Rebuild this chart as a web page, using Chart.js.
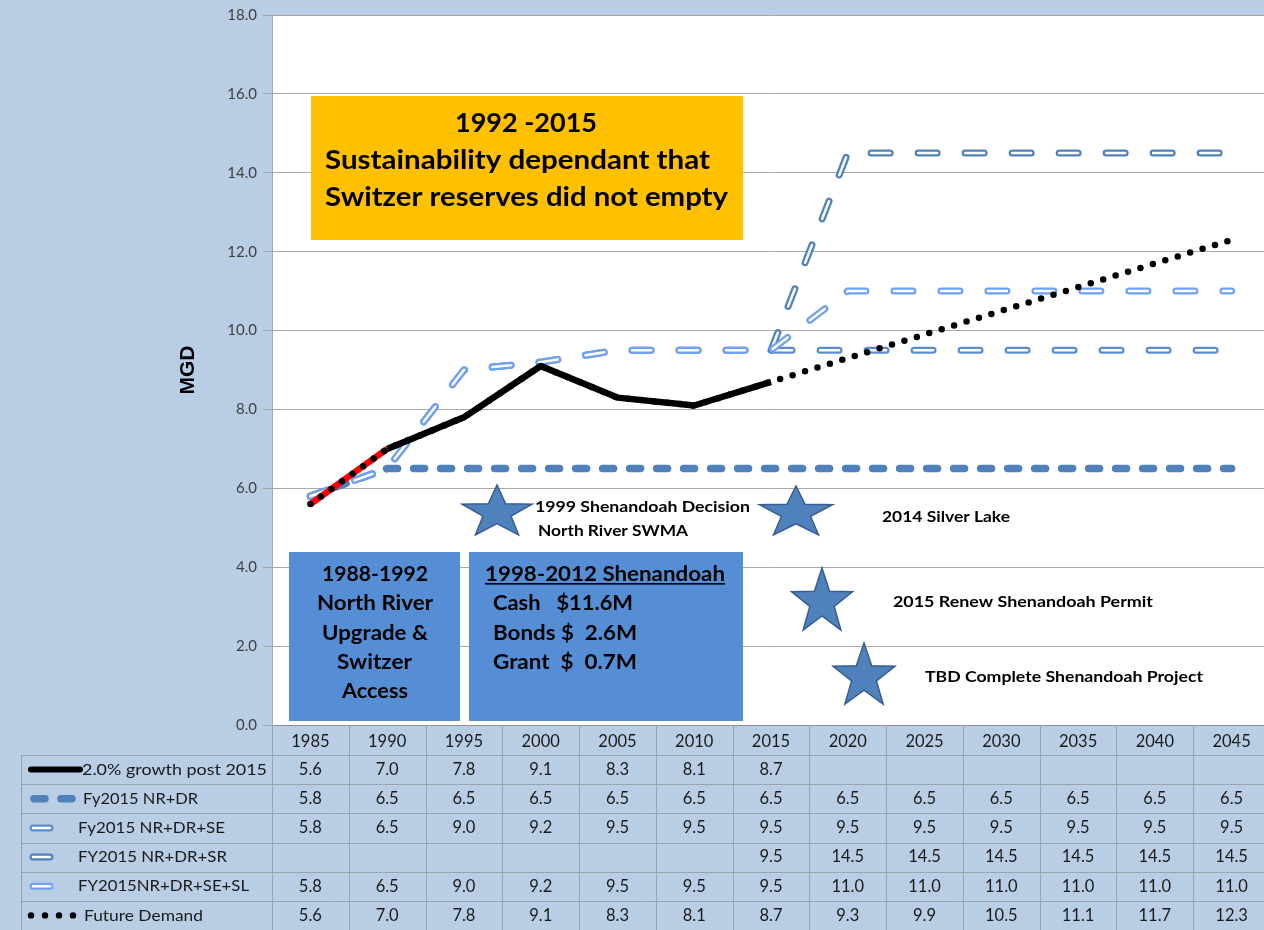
<!DOCTYPE html>
<html>
<head>
<meta charset="utf-8">
<script src="https://cdn.jsdelivr.net/npm/chart.js@4.4.0/dist/chart.umd.min.js"></script>
<style>
html, body { margin: 0; padding: 0; background: #b9cde5; overflow: hidden; }
canvas { display: block; }
</style>
</head>
<body>
<canvas id="myChart" width="1270" height="930"></canvas>
<script>
const years = ['1985', '1990', '1995', '2000', '2005', '2010', '2015', '2020', '2025', '2030', '2035', '2040', '2045'];

const growth   = [5.6, 7.0, 7.8, 9.1, 8.3, 8.1, 8.7, null, null, null, null, null, null];
const nrDr     = [5.8, 6.5, 6.5, 6.5, 6.5, 6.5, 6.5, 6.5, 6.5, 6.5, 6.5, 6.5, 6.5];
const nrDrSe   = [5.8, 6.5, 9.0, 9.2, 9.5, 9.5, 9.5, 9.5, 9.5, 9.5, 9.5, 9.5, 9.5];
const nrDrSr   = [null, null, null, null, null, null, 9.5, 14.5, 14.5, 14.5, 14.5, 14.5, 14.5];
const nrDrSeSl = [5.8, 6.5, 9.0, 9.2, 9.5, 9.5, 9.5, 11.0, 11.0, 11.0, 11.0, 11.0, 11.0];
const demand   = [5.6, 7.0, 7.8, 9.1, 8.3, 8.1, 8.7, 9.3, 9.9, 10.5, 11.1, 11.7, 12.3];

const seriesNames = ['2.0% growth post 2015', 'Fy2015 NR+DR', 'Fy2015 NR+DR+SE', 'FY2015 NR+DR+SR', 'FY2015NR+DR+SE+SL', 'Future Demand'];
const tableRows = [growth, nrDr, nrDrSe, nrDrSr, nrDrSeSl, demand];

const yMin = 0, yMax = 18, yStep = 2;

const BG = '#b9cde5';
const DARK_BLUE = '#4f81bd';
const SE_BLUE = '#5a8dcf';
const LIGHT_BLUE = '#6fa1f0';
const DASH_OUT = [19, 28];
const FONT = 'Lato, "Open Sans", sans-serif';

// label placement in the table's first column: [left, width]
const nameSpots = [[82, 185], [83, 115], [78, 147], [78, 149], [78, 171], [84, 119]];

function outlined(data, color, order) {
    return [{
        data: data, borderColor: '#ffffff', borderWidth: 2.5, borderDash: DASH_OUT,
        borderCapStyle: 'round', pointRadius: 0, order: order
    }, {
        data: data, borderColor: color, borderWidth: 7, borderDash: DASH_OUT,
        borderCapStyle: 'round', pointRadius: 0, order: order + 1
    }];
}

let data = {
    labels: years,
    datasets: [
        { data: demand, borderColor: '#000', borderWidth: 6.5, borderDash: [0, 13], borderCapStyle: 'round', pointRadius: 0, order: 0 },
        { data: growth, borderColor: '#000', borderWidth: 6.5, borderJoinStyle: 'round', pointRadius: 0, order: 1,
          segment: { borderColor: c => c.p0DataIndex === 0 ? '#ff0000' : '#000' } },
        ...outlined(nrDrSeSl, LIGHT_BLUE, 2),
        ...outlined(nrDrSe, SE_BLUE, 4),
        ...outlined(nrDrSr, DARK_BLUE, 6),
        { data: nrDr, borderColor: DARK_BLUE, borderWidth: 7.5, borderDash: [11, 16], borderCapStyle: 'round', pointRadius: 0, order: 8 }
    ]
};

function fitText(ctx, str, x, y, w, font) {
    ctx.font = font;
    const m = ctx.measureText(str).width;
    ctx.save();
    ctx.translate(x, y);
    ctx.scale(w / m, 1);
    ctx.textAlign = 'left';
    ctx.textBaseline = 'middle';
    ctx.fillText(str, 0, 0);
    ctx.restore();
}

function star(ctx, cx, top, w, h) {
    const rx = w / 1.902, ry = h / 1.809;
    const cy = top + ry;
    ctx.beginPath();
    for (let i = 0; i < 10; i++) {
        const a = -Math.PI / 2 + i * Math.PI / 5;
        const k = i % 2 === 0 ? 1 : 0.4;
        ctx.lineTo(cx + Math.cos(a) * rx * k, cy + Math.sin(a) * ry * k);
    }
    ctx.closePath();
    ctx.fillStyle = DARK_BLUE;
    ctx.fill();
    ctx.strokeStyle = '#385d8a';
    ctx.lineWidth = 1.5;
    ctx.stroke();
}

const background = {
    id: 'background',
    beforeDraw(chart) {
        const { ctx, chartArea: a } = chart;
        ctx.save();
        ctx.fillStyle = BG;
        ctx.fillRect(0, 0, chart.width, chart.height);
        ctx.fillStyle = '#ffffff';
        ctx.fillRect(a.left, a.top, a.right - a.left, a.bottom - a.top);
        ctx.restore();
    }
};

const notes = {
    id: 'notes',
    beforeDatasetsDraw(chart) {
        const ctx = chart.ctx;
        ctx.save();
        // orange box
        ctx.fillStyle = '#ffc000';
        ctx.fillRect(311, 96, 432, 144);
        ctx.fillStyle = '#000';
        const big = 'bold 27px ' + FONT;
        fitText(ctx, '1992 -2015', 455, 123, 142, big);
        fitText(ctx, 'Sustainability dependant that', 325, 160, 385, big);
        fitText(ctx, 'Switzer reserves did not empty', 325, 197, 403, big);

        // blue boxes
        ctx.fillStyle = '#558ed5';
        ctx.fillRect(289, 552, 171, 169);
        ctx.fillRect(469, 552, 274, 169);
        ctx.fillStyle = '#000';
        const mid = 'bold 20px ' + FONT;
        fitText(ctx, '1988-1992', 322, 575, 106, mid);
        fitText(ctx, 'North River', 317, 604, 116, mid);
        fitText(ctx, 'Upgrade &', 322, 634, 106, mid);
        fitText(ctx, 'Switzer', 337, 663, 75, mid);
        fitText(ctx, 'Access', 342, 692, 66, mid);

        fitText(ctx, '1998-2012 Shenandoah', 485, 575, 240, mid);
        ctx.fillRect(485, 583, 240, 1.6);
        fitText(ctx, 'Cash   $11.6M', 493, 604, 140, mid);
        fitText(ctx, 'Bonds $  2.6M', 493, 634, 144, mid);
        fitText(ctx, 'Grant  $  0.7M', 493, 663, 144, mid);

        // stars and milestone labels
        star(ctx, 497, 485, 70, 50);
        star(ctx, 796, 486, 73, 49);
        star(ctx, 822, 568, 61, 62);
        star(ctx, 864, 643, 62, 61);
        ctx.fillStyle = '#000';
        const sm = 'bold 16px ' + FONT;
        fitText(ctx, '1999 Shenandoah Decision', 535, 507, 215, sm);
        fitText(ctx, 'North River SWMA', 538, 531, 150, sm);
        fitText(ctx, '2014 Silver Lake', 882, 517, 128, sm);
        fitText(ctx, '2015 Renew Shenandoah Permit', 893, 602, 260, sm);
        fitText(ctx, 'TBD Complete Shenandoah Project', 925, 677, 278, sm);
        ctx.restore();
    }
};

const dataTable = {
    id: 'dataTable',
    afterDraw(chart) {
        const { ctx, chartArea: a } = chart;
        const x = chart.scales.x;
        const colW = (a.right - a.left) / years.length;
        const top = a.bottom, head = a.bottom + 30, bottom = chart.height;
        const rowH = (bottom - head) / tableRows.length;
        const left = 21;
        ctx.save();
        ctx.strokeStyle = '#9aa3ad';
        ctx.lineWidth = 1;
        ctx.beginPath();
        for (let k = 0; k <= years.length; k++) {
            const px = Math.round(a.left + k * colW) + 0.5;
            ctx.moveTo(px, top);
            ctx.lineTo(px, bottom);
        }
        ctx.moveTo(left + 0.5, head);
        ctx.lineTo(left + 0.5, bottom);
        for (let r = 0; r < tableRows.length; r++) {
            const py = Math.round(head + r * rowH) + 0.5;
            ctx.moveTo(left, py);
            ctx.lineTo(a.right, py);
        }
        ctx.stroke();

        ctx.fillStyle = '#1a1a1a';
        ctx.textBaseline = 'middle';
        tableRows.forEach((row, r) => {
            const cy = head + r * rowH + rowH / 2;
            ctx.font = '16.5px ' + FONT;
            ctx.textAlign = 'center';
            row.forEach((v, i) => {
                if (v === null) return;
                ctx.fillText(v.toFixed(1), x.getPixelForValue(i), cy);
            });
            fitText(ctx, seriesNames[r], nameSpots[r][0], cy, nameSpots[r][1], '16px ' + FONT);
        });

        // legend keys
        const cy = r => head + r * rowH + rowH / 2;
        ctx.lineCap = 'round';
        ctx.strokeStyle = '#000';
        ctx.lineWidth = 6;
        ctx.beginPath(); ctx.moveTo(31, cy(0)); ctx.lineTo(80, cy(0)); ctx.stroke();

        ctx.strokeStyle = DARK_BLUE;
        ctx.lineWidth = 7.5;
        ctx.setLineDash([11, 16]);
        ctx.beginPath(); ctx.moveTo(34, cy(1)); ctx.lineTo(80, cy(1)); ctx.stroke();
        ctx.setLineDash([]);

        [SE_BLUE, DARK_BLUE, LIGHT_BLUE].forEach((c, j) => {
            const yy = cy(2 + j);
            ctx.strokeStyle = c; ctx.lineWidth = 7;
            ctx.beginPath(); ctx.moveTo(33, yy); ctx.lineTo(50, yy); ctx.stroke();
            ctx.strokeStyle = '#fff'; ctx.lineWidth = 2.5;
            ctx.beginPath(); ctx.moveTo(33, yy); ctx.lineTo(50, yy); ctx.stroke();
        });

        ctx.fillStyle = '#000';
        [31, 45, 59, 73].forEach(dx => {
            ctx.beginPath(); ctx.arc(dx, cy(5), 3.2, 0, Math.PI * 2); ctx.fill();
        });
        ctx.restore();
    }
};

let config = {
    type: 'line',
    data: data,
    options: {
        responsive: false,
        devicePixelRatio: 1,
        animation: false,
        layout: { padding: { top: 14, right: 0, bottom: 0, left: 0 } },
        plugins: { legend: { display: false }, tooltip: { enabled: false } },
        scales: {
            x: {
                offset: true,
                grid: { display: false, drawTicks: false },
                border: { color: '#8f8f8f' },
                ticks: { color: '#1a1a1a', font: { family: FONT, size: 16.5 }, padding: 7, maxRotation: 0, autoSkip: false },
                afterFit: s => { s.height = 205; }
            },
            y: {
                min: yMin, max: yMax,
                grid: { color: '#a8a8a8', tickLength: 9 },
                border: { color: '#a8a8a8' },
                ticks: { stepSize: yStep, color: '#404040', padding: 6, font: { family: FONT, size: 15 },
                         callback: v => v.toFixed(1) },
                title: { display: true, text: 'MGD', color: '#000',
                         font: { family: 'Liberation Sans, Arial, sans-serif', size: 21, weight: 'bold' },
                         padding: { top: 176, bottom: 0 } },
                afterFit: s => { s.width = 272; }
            }
        }
    },
    plugins: [background, notes, dataTable]
};

let myChart = new Chart(document.getElementById('myChart'), config);
</script>
</body>
</html>
